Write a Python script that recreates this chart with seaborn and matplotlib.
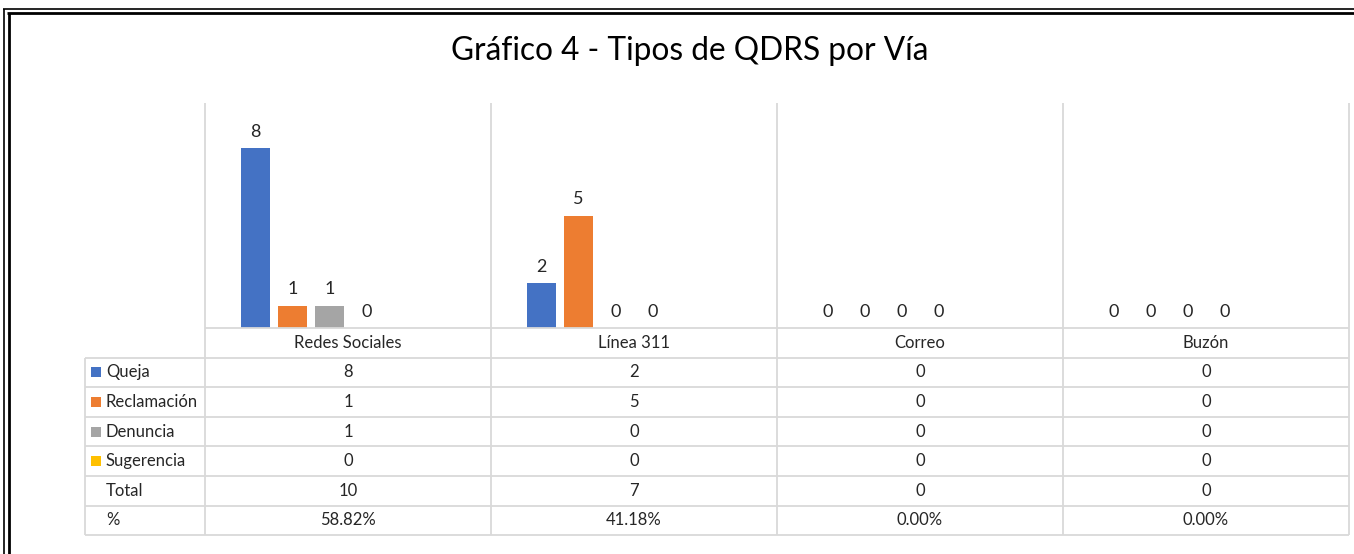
import matplotlib
matplotlib.use("Agg")
import matplotlib.pyplot as plt
from matplotlib.lines import Line2D
from matplotlib.patches import Rectangle
import pandas as pd
import seaborn as sns

# data
vias = ["Redes Sociales", "Línea 311", "Correo", "Buzón"]
series = ["Queja", "Reclamación", "Denuncia", "Sugerencia"]
queja = [8, 2, 0, 0]
reclamacion = [1, 5, 0, 0]
denuncia = [1, 0, 0, 0]
sugerencia = [0, 0, 0, 0]
colors = ["#4472C4", "#ED7D31", "#A5A5A5", "#FFC000"]
title = "Gráfico 4 - Tipos de QDRS por Vía"

W, H = 1354, 554
GRID = "#d9d9d9"
FONT = "Lato"


def fx(px):
    return px / W


def fy(py):
    return 1 - py / H


values = [queja, reclamacion, denuncia, sugerencia]
rows = []
for name, vals in zip(series, values):
    for via, v in zip(vias, vals):
        rows.append({"via": via, "serie": name, "valor": v})
df = pd.DataFrame(rows)

totals = [sum(col) for col in zip(*values)]
grand = sum(totals)
pcts = [f"{t / grand * 100:.2f}%" for t in totals]

sns.set_theme(style="white")
plt.rcParams["font.family"] = [FONT, "DejaVu Sans"]

fig = plt.figure(figsize=(W / 100, H / 100), dpi=100)
ax_left, ax_right, ax_top, ax_bot = 205, 1349, 103, 328
ax = fig.add_axes([fx(ax_left), fy(ax_bot), fx(ax_right) - fx(ax_left), fy(ax_top) - fy(ax_bot)])

# Excel reserves slots for the hidden Total and % series, so keep two empty levels
hue_order = series + ["Total", "%"]
palette = dict(zip(series, colors))
palette["Total"] = "white"
palette["%"] = "white"
sns.barplot(data=df, x="via", y="valor", hue="serie", hue_order=hue_order,
            order=vias, palette=palette, saturation=1, width=0.776, gap=0.24,
            linewidth=0, legend=False, ax=ax)

for cont in ax.containers[:len(series)]:
    ax.bar_label(cont, padding=6, fontsize=13, color="#262626", family=FONT)

ax.set_xlim(-0.5, len(vias) - 0.5)
ax.set_ylim(0, 10)
ax.axis("off")

# table grid
n_cols = len(vias)
col_w = (ax_right - ax_left) / n_cols
col_edges = [ax_left + i * col_w for i in range(n_cols + 1)]
row_h = 29.6
row_edges = [ax_bot + i * row_h for i in range(8)]
table_left = 85


def hline(x0, x1, y, color=GRID, lw=1.3):
    fig.add_artist(Line2D([fx(x0), fx(x1)], [fy(y), fy(y)], transform=fig.transFigure,
                          color=color, lw=lw, solid_capstyle="butt"))


def vline(x, y0, y1, color=GRID, lw=1.3):
    fig.add_artist(Line2D([fx(x), fx(x)], [fy(y0), fy(y1)], transform=fig.transFigure,
                          color=color, lw=lw, solid_capstyle="butt"))


for x in col_edges:
    vline(x, ax_top, row_edges[-1])
vline(table_left, row_edges[1], row_edges[-1])
hline(ax_left, ax_right, row_edges[0])
for y in row_edges[1:]:
    hline(table_left, ax_right, y)

txt = dict(fontsize=12, color="#262626", family=FONT, va="center", transform=fig.transFigure)
for i, via in enumerate(vias):
    cx = (col_edges[i] + col_edges[i + 1]) / 2
    fig.text(fx(cx), fy(row_edges[0] + row_h / 2), via, ha="center", **txt)

table_rows = [[str(v) for v in vals] for vals in values]
table_rows.append([str(t) for t in totals])
table_rows.append(pcts)
row_names = series + ["Total", "%"]

for r, (name, cells) in enumerate(zip(row_names, table_rows)):
    cy = row_edges[r + 1] + row_h / 2
    if r < len(series):
        fig.add_artist(Rectangle((fx(91), fy(cy + 5)), fx(10), 10 / H,
                                 transform=fig.transFigure, color=colors[r], lw=0))
    fig.text(fx(106), fy(cy), name, ha="left", **txt)
    for i, cell in enumerate(cells):
        cx = (col_edges[i] + col_edges[i + 1]) / 2
        fig.text(fx(cx), fy(cy), cell, ha="center", **txt)

fig.text(fx(690), fy(51), title, ha="center", va="center", fontsize=22.8,
         color="#000000", family=FONT)

# double page border
hline(3, W, 9, color="black", lw=1.2)
hline(7, W, 13, color="black", lw=2.0)
vline(4, 9, H, color="black", lw=1.2)
vline(8.5, 13, H, color="black", lw=2.0)

fig.savefig("out.png", dpi=100, facecolor="white")
